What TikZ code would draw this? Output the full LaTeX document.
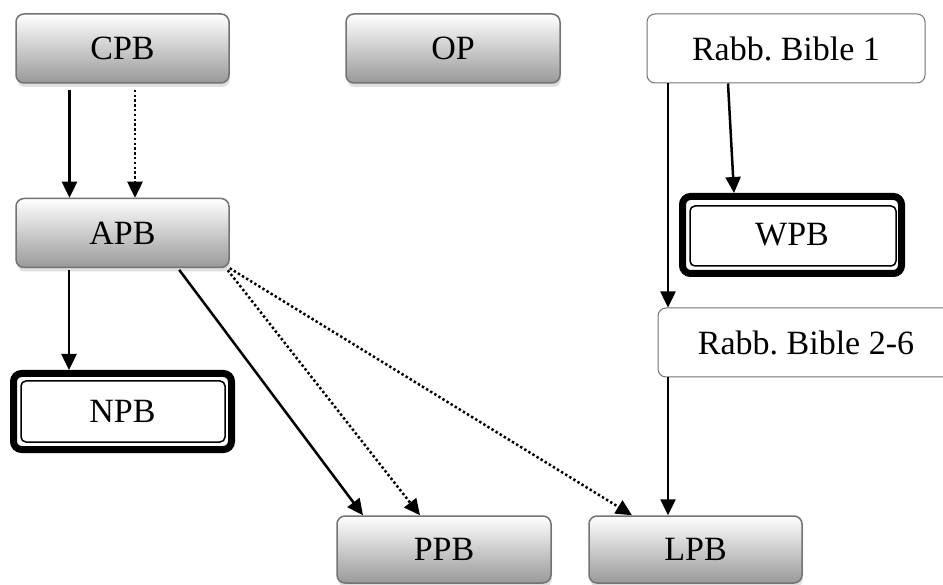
\documentclass[tikz,border=0pt]{standalone}
\usepackage{fontspec}
\setmainfont{Liberation Serif}
\usetikzlibrary{arrows.meta,shadows,calc}
\begin{document}
\frenchspacing
\begin{tikzpicture}[x=1pt,y=-1pt,
  base/.style={rounded corners=8pt,inner sep=0pt,font=\fontsize{34}{40}\selectfont,text=black},
  graybox/.style={base,draw=black!55,line width=1.5pt,top color=white,bottom color=black!40,
    drop shadow={shadow xshift=1pt,shadow yshift=-4pt,opacity=0.25}},
  whitebox/.style={base,draw=black!55,line width=1pt,fill=white},
  boldbox/.style={base,draw=black,line width=7pt,fill=white},
  inner/.style={draw=black,line width=1.5pt,rounded corners=5pt},
  arr/.style={line width=2.5pt,-{Triangle[width=15pt,length=16pt]}},
  dotarr/.style={arr,dash pattern=on 2.4pt off 2.4pt}
]
\clip (0,0) rectangle (943,585);
\fill[white] (0,0) rectangle (943,585);

\node[graybox,minimum width=213pt,minimum height=69pt] (cpb) at (122.5,48.5) {CPB};
\node[graybox,minimum width=214pt,minimum height=69pt] (op) at (453,48.5) {OP};
\node[whitebox,minimum width=278pt,minimum height=69pt] (rb1) at (786,48.5) {Rabb. Bible 1};
\node[graybox,minimum width=213pt,minimum height=69pt] (apb) at (122.5,233) {APB};
\node[boldbox,minimum width=219pt,minimum height=77pt] (wpb) at (792,235) {WPB};
\node[whitebox,minimum width=296pt,minimum height=69pt] (rb2) at (806,342.5) {Rabb. Bible 2-6};
\node[boldbox,minimum width=218pt,minimum height=76pt] (npb) at (122.5,411.5) {NPB};
\node[graybox,minimum width=214pt,minimum height=67pt] (ppb) at (444,549.5) {PPB};
\node[graybox,minimum width=213pt,minimum height=67pt] (lpb) at (695.5,549.5) {LPB};

% inner lines of the double boxes
\draw[inner] ($(wpb.north west)+(11,13)$) rectangle ($(wpb.south east)+(-9,-11)$);
\draw[inner] ($(npb.north west)+(11,11)$) rectangle ($(npb.south east)+(-10,-11)$);

% connectors
\draw[arr,shorten <=6pt] ([xshift=-53pt]cpb.south) -- ([xshift=-53pt]apb.north);
\draw[dotarr,shorten <=6pt] ([xshift=12.5pt]cpb.south) -- ([xshift=12.5pt]apb.north);
\draw[arr,shorten <=2pt] ([xshift=-53.5pt]apb.south) -- ([xshift=-53.5pt]npb.north);
\draw[arr,shorten <=2pt] ([xshift=55.5pt]apb.south) -- ([xshift=-81pt]ppb.north);
\draw[dotarr] ([xshift=-2pt,yshift=-2pt]apb.south east) -- ([xshift=-24pt]ppb.north);
\draw[dotarr] ([xshift=0pt,yshift=0pt]apb.south east) -- ([xshift=-63.5pt]lpb.north);
\draw[arr] ([xshift=-118pt]rb1.south) -- ([xshift=-138pt]rb2.north);
\draw[arr] ([xshift=-58pt]rb1.south) -- ([xshift=-58pt]wpb.north);
\draw[arr] ([xshift=-138pt]rb2.south) -- ([xshift=-27.5pt]lpb.north);
\end{tikzpicture}
\end{document}
